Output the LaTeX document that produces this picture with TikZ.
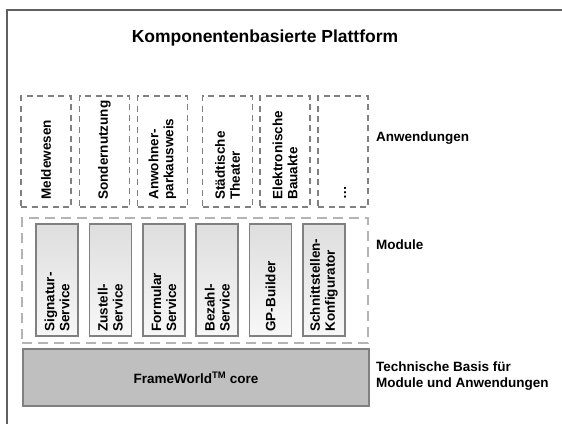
\documentclass[tikz,border=0pt]{standalone}
\usepackage{fontspec}
\setmainfont{Liberation Sans}
\usetikzlibrary{shapes}
\definecolor{boxgray}{HTML}{808080}
\definecolor{dashgray}{HTML}{B4B4B4}
\definecolor{framegray}{HTML}{606060}
\tikzstyle{frame edge} = [draw,line width=1.8pt,framegray]

\begin{document}
\begin{tikzpicture}
[x=1pt,y=-1pt,
appBox/.style={draw=boxgray,line width=1.8pt,dash pattern=on 6pt off 4.5pt,minimum width=50pt,minimum height=111pt,inner sep=0pt}, %
moduleBox/.style={draw=boxgray,line width=1.6pt,top color=gray!26,bottom color=gray!6,minimum width=42pt,minimum height=112pt,inner sep=0pt}, %
boxText/.style={rotate=90,anchor=west,align=left,inner sep=0pt,font=\bfseries\fontsize{13.5}{15}\selectfont}, %
sideText/.style={align=left,inner sep=0pt,font=\bfseries\fontsize{13.5}{16}\selectfont}]

\useasboundingbox (0,0) rectangle (562,423);

%% frame and title
\draw[frame edge] (7,430) -- (7,10) -- (570,10);
\node (title) [anchor=base,inner sep=0pt,font=\bfseries\fontsize{17.5}{21}\selectfont] at (265,42) {Komponentenbasierte Plattform};

%% applications
\foreach \nodename/\x/\label in {
melde/46/Meldewesen, sonder/104.5/Sondernutzung, anwohner/162.5/Anwohner-\\parkausweis,
theater/227.5/Städtische\\Theater, bauakte/285/Elektronische\\Bauakte, weitere/343/\strut…}
{
\node (\nodename) at (\x,151.5) [appBox] {};
\node (\nodename-text) [boxText] at ([yshift=8pt]\nodename.south) {\label};
}

%% modules
\node (modules) at (195,280.5) [draw=dashgray,line width=2.5pt,dash pattern=on 10pt off 6pt,minimum width=346pt,minimum height=125pt] {};
\foreach \nodename/\x/\label in {
signatur/57/Signatur-\\Service, zustell/110.4/Zustell-\\Service, formular/163.8/Formular\\Service,
bezahl/217.2/Bezahl-\\Service, gpbuilder/270.6/GP-Builder, schnitt/324/Schnittstellen-\\Konfigurator}
{
\node (\nodename) at (\x,280) [moduleBox] {};
\node (\nodename-text) [boxText] at ([yshift=5pt]\nodename.south) {\label};
}

%% core
\node (core) at (196,377.5) [draw=boxgray,line width=1.8pt,fill=gray!50,minimum width=346pt,minimum height=57pt,font=\bfseries\fontsize{13.5}{16}\selectfont] {FrameWorld\textsuperscript{TM} core};

%% side labels
\node (anwendungen) [sideText,anchor=base west] at (376,141) {Anwendungen};
\node (modulelabel) [sideText,anchor=base west] at (376,249) {Module};
\node (basis) [sideText,anchor=west] at (376,376.5) {Technische Basis für\\Module und Anwendungen};

\end{tikzpicture}
\end{document}
